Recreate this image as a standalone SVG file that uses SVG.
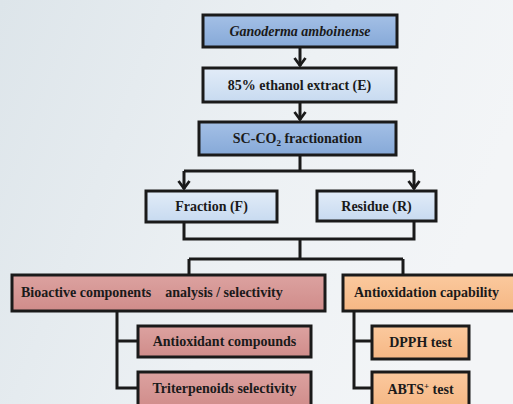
<svg xmlns="http://www.w3.org/2000/svg" width="513" height="404" viewBox="0 0 513 404">
<defs>
<linearGradient id="bg" x1="0" y1="0" x2="1" y2="0.3">
<stop offset="0" stop-color="#dde5ea"/>
<stop offset="0.6" stop-color="#edf1f4"/>
<stop offset="1" stop-color="#f3f5f7"/>
</linearGradient>
<linearGradient id="gBlue" x1="0" y1="0" x2="0" y2="1">
<stop offset="0" stop-color="#a4c0e6"/>
<stop offset="1" stop-color="#86a9d8"/>
</linearGradient>
<linearGradient id="gLight" x1="0" y1="0" x2="0" y2="1">
<stop offset="0" stop-color="#e2ecf8"/>
<stop offset="1" stop-color="#c7daf0"/>
</linearGradient>
<linearGradient id="gPink" x1="0" y1="0" x2="0" y2="1">
<stop offset="0" stop-color="#dca2a0"/>
<stop offset="1" stop-color="#d08c8a"/>
</linearGradient>
<linearGradient id="gOrange" x1="0" y1="0" x2="0" y2="1">
<stop offset="0" stop-color="#fbc99e"/>
<stop offset="1" stop-color="#f5b784"/>
</linearGradient>
<marker id="arr" viewBox="0 0 12 14" refX="10" refY="7" markerWidth="12" markerHeight="14" markerUnits="userSpaceOnUse" orient="auto">
<path d="M2,1.5 L9.5,7 L2,12.5" fill="none" stroke="#1a1a1a" stroke-width="2.8"/>
</marker>
<style>
.box{stroke:#1a1a1a;stroke-width:3}
.t{font-family:"Liberation Serif","Times New Roman",serif;font-weight:bold;font-size:14px;fill:#1a1a1a;text-anchor:middle}
.s{text-anchor:start}
.c{fill:none;stroke:#1a1a1a;stroke-width:3}
</style>
</defs>
<rect x="0" y="0" width="513" height="404" fill="url(#bg)"/>

<g id="connectors">
<path class="c" d="M300,48 V66" marker-end="url(#arr)"/>
<path class="c" d="M300,102 V120" marker-end="url(#arr)"/>
<path class="c" d="M300,155 V171 M184,171 H414"/>
<path class="c" d="M184,171 V189" marker-end="url(#arr)"/>
<path class="c" d="M414,171 V189" marker-end="url(#arr)"/>
<path class="c" d="M184,222 V239 H414 V221"/>
<path class="c" d="M300,239 V259 M189,259 H403 M189,259 V275 M403,259 V275"/>
<path class="c" d="M117,311 V388 H138 M117,341 H138"/>
<path class="c" d="M354,311 V388 H372 M354,341 H372"/>
</g>

<g id="n1"><rect class="box" x="203" y="15" width="194" height="32" fill="url(#gBlue)"/>
<text class="t" x="300" y="36" font-style="italic">Ganoderma amboinense</text></g>
<g id="n2"><rect class="box" x="203" y="68" width="193" height="34" fill="url(#gLight)"/>
<text class="t" x="299.5" y="90">85% ethanol extract (E)</text></g>
<g id="n3"><rect class="box" x="199" y="122" width="197" height="33" fill="url(#gBlue)"/>
<text class="t" x="297.5" y="143">SC-CO<tspan font-size="9" dy="3">2</tspan><tspan dy="-3"> fractionation</tspan></text></g>
<g id="n4"><rect class="box" x="146" y="191" width="131" height="31" fill="url(#gLight)"/>
<text class="t" x="211.5" y="211">Fraction (F)</text></g>
<g id="n5"><rect class="box" x="317" y="191" width="119" height="30" fill="url(#gLight)"/>
<text class="t" x="376.5" y="211">Residue (R)</text></g>
<g id="n6"><rect class="box" x="12" y="275" width="313" height="36" fill="url(#gPink)"/>
<text class="t s" x="21" y="297" xml:space="preserve">Bioactive components    analysis / selectivity</text></g>
<g id="n7"><rect class="box" x="343" y="275" width="174" height="36" fill="url(#gOrange)"/>
<text class="t s" x="354" y="297">Antioxidation capability</text></g>
<g id="n8"><rect class="box" x="138" y="326" width="173" height="31" fill="url(#gPink)"/>
<text class="t" x="224.5" y="346">Antioxidant compounds</text></g>
<g id="n9"><rect class="box" x="138" y="372" width="173" height="36" fill="url(#gPink)"/>
<text class="t" x="224.5" y="393">Triterpenoids selectivity</text></g>
<g id="n10"><rect class="box" x="372" y="326" width="97" height="33" fill="url(#gOrange)"/>
<text class="t" x="420.5" y="347">DPPH test</text></g>
<g id="n11"><rect class="box" x="372" y="372" width="97" height="36" fill="url(#gOrange)"/>
<text class="t" x="420.5" y="394">ABTS<tspan font-size="9" dy="-5">+</tspan><tspan dy="5"> test</tspan></text></g>
</svg>
